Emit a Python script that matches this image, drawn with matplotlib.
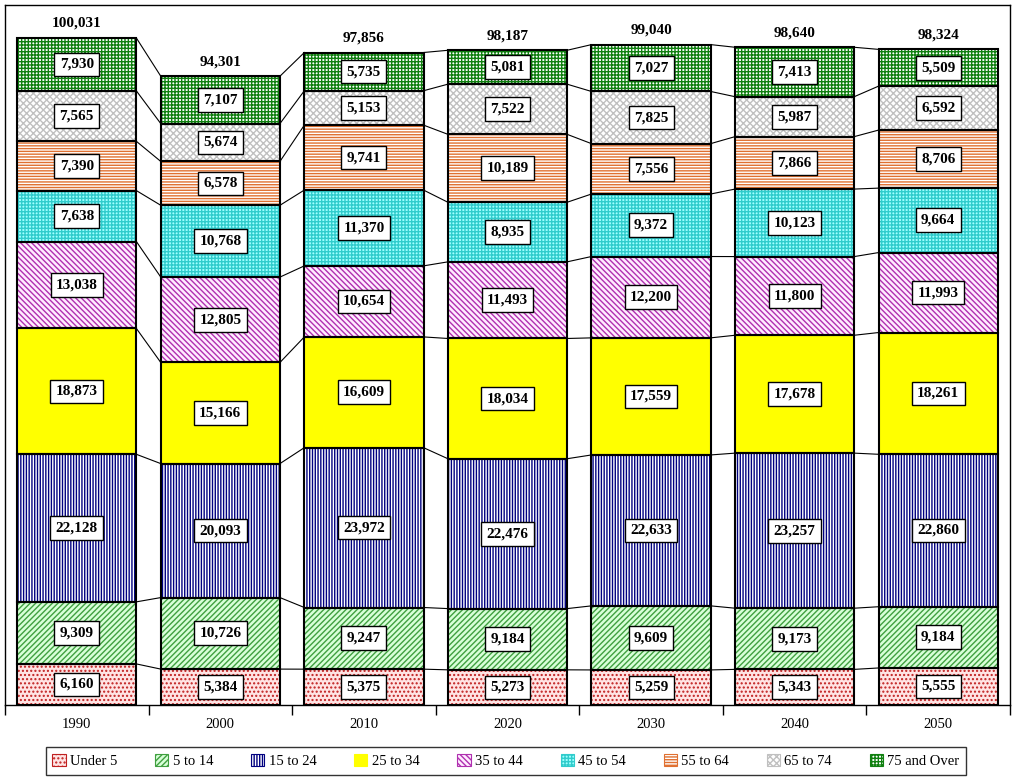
import numpy as np
import matplotlib.pyplot as plt
from matplotlib.patches import Patch

plt.rcParams['font.family'] = ['Liberation Serif', 'DejaVu Serif']
plt.rcParams['hatch.linewidth'] = 1.0

years = ["1990", "2000", "2010", "2020", "2030", "2040", "2050"]
groups = ["Under 5", "5 to 14", "15 to 24", "25 to 34", "35 to 44",
          "45 to 54", "55 to 64", "65 to 74", "75 and Over"]

under5 = [6160, 5384, 5375, 5273, 5259, 5343, 5555]
age5_14 = [9309, 10726, 9247, 9184, 9609, 9173, 9184]
age15_24 = [22128, 20093, 23972, 22476, 22633, 23257, 22860]
age25_34 = [18873, 15166, 16609, 18034, 17559, 17678, 18261]
age35_44 = [13038, 12805, 10654, 11493, 12200, 11800, 11993]
age45_54 = [7638, 10768, 11370, 8935, 9372, 10123, 9664]
age55_64 = [7390, 6578, 9741, 10189, 7556, 7866, 8706]
age65_74 = [7565, 5674, 5153, 7522, 7825, 5987, 6592]
age75_over = [7930, 7107, 5735, 5081, 7027, 7413, 5509]

series = [under5, age5_14, age15_24, age25_34, age35_44,
          age45_54, age55_64, age65_74, age75_over]

# (facecolor, hatch, hatch colour)
styles = [
    ("#FFE4E4", "....", "#C02020"),
    ("#D8FFD8", "//////", "#40A040"),
    ("#FFFFFF", "||||||", "#000080"),
    ("#FFFF00", None, "#FFFF00"),
    ("#FFECFF", "\\\\\\\\\\\\", "#B030B0"),
    ("#A0FFFF", "+++++", "#30CCCC"),
    ("#FFFFFF", "------", "#E07030"),
    ("#FFFFFF", "xxxxx", "#C0C0C0"),
    ("#FFFFFF", "+++++", "#108010"),
]

fig = plt.figure(figsize=(10.14, 7.78), dpi=100)
ax = fig.add_axes([5 / 1014, 1 - 705 / 778, 1005 / 1014, 700 / 778])

x = np.arange(len(years))
w = 0.83
bottom = np.zeros(len(years))
tops = []
for vals, (fc, hatch, hc) in zip(series, styles):
    vals = np.array(vals, dtype=float)
    ax.bar(x, vals, w, bottom=bottom, color=fc, hatch=hatch,
           edgecolor=hc, linewidth=0, zorder=2)
    ax.bar(x, vals, w, bottom=bottom, facecolor="none",
           edgecolor="black", linewidth=1.5, zorder=3)
    for xi, b, v in zip(x, bottom, vals):
        ax.text(xi, b + v / 2, f"{int(v):,}", ha="center", va="center",
                fontsize=11, fontweight="bold", zorder=5,
                bbox=dict(boxstyle="square,pad=0.35", fc="white",
                          ec="black", lw=1))
    bottom = bottom + vals
    tops.append(bottom.copy())

# connector lines between neighbouring bars
for t in tops:
    for i in range(len(years) - 1):
        ax.plot([x[i] + w / 2, x[i + 1] - w / 2], [t[i], t[i + 1]],
                color="black", lw=0.8, zorder=1)

for xi, tot in zip(x, bottom):
    ax.text(xi, tot + 2200, f"{int(tot):,}", ha="center", va="center",
            fontsize=11, fontweight="bold")

ax.set_xlim(-0.5, len(years) - 0.5)
ax.set_ylim(0, 104980)
ax.set_yticks([])
ax.set_xticks(x)
ax.set_xticklabels(years, fontsize=10.5)
ax.tick_params(axis="x", which="major", length=0, pad=9)
ax.set_xticks(np.arange(-0.5, len(years)), minor=True)
ax.tick_params(axis="x", which="minor", length=7, width=1, direction="out")
for s in ax.spines.values():
    s.set_linewidth(1)

handles = [Patch(facecolor=fc, hatch=h, edgecolor=hc, linewidth=0.8)
           for fc, h, hc in styles]
leg = fig.legend(handles, groups, loc="center", ncol=9,
                 bbox_to_anchor=(506 / 1014, 1 - 761 / 778),
                 frameon=True, fancybox=False, edgecolor="black",
                 fontsize=10.5, handlelength=0.9, handleheight=0.9,
                 handletextpad=0.3, columnspacing=2.6, borderpad=0.45)
leg.get_frame().set_linewidth(1)

fig.savefig("out.png", dpi=100)
